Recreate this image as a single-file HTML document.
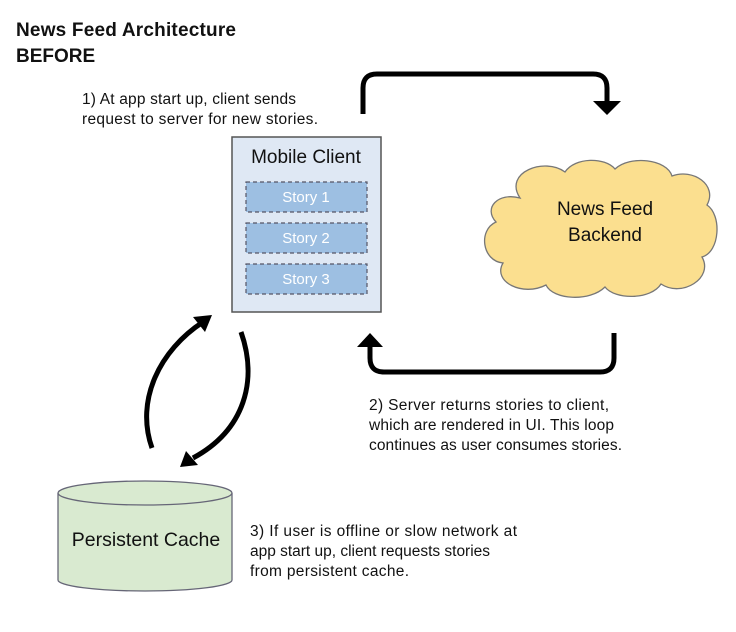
<!DOCTYPE html>
<html><head><style>
body{margin:0;background:#fff;width:736px;height:627px;overflow:hidden;font-family:"Liberation Sans",sans-serif;}
svg text{font-family:"Liberation Sans",sans-serif;}
</style></head><body>
<svg width="736" height="627" viewBox="0 0 736 627" xmlns="http://www.w3.org/2000/svg">
<text x="16" y="36" font-size="19" font-weight="bold" fill="#111" textLength="220">News Feed Architecture</text>
<text x="16" y="62" font-size="19" font-weight="bold" fill="#111">BEFORE</text>
<text x="82" y="104" font-size="15.5" fill="#111" textLength="214">1) At app start up, client sends</text>
<text x="82" y="124" font-size="15.5" fill="#111" textLength="236">request to server for new stories.</text>

<rect x="232" y="137" width="149" height="175" fill="#dfe8f4" stroke="#555" stroke-width="1.5"/>
<text x="306" y="163" font-size="19" text-anchor="middle" fill="#111">Mobile Client</text>
<g stroke="#556" stroke-width="1.2" stroke-dasharray="4,3" fill="#9dbfe2">
<rect x="246" y="182" width="121" height="30"/>
<rect x="246" y="223" width="121" height="30"/>
<rect x="246" y="264" width="121" height="30"/>
</g>
<g font-size="15" fill="#fff" text-anchor="middle">
<text x="306" y="202">Story 1</text>
<text x="306" y="243">Story 2</text>
<text x="306" y="284">Story 3</text>
</g>

<path d="M520,198 C503,172 545,157 565,172 C575,157 605,157 615,169 C630,155 667,159 672,176 C693,168 718,185 707,205 C722,215 720,252 702,257 C714,278 682,298 661,284 C651,300 615,300 605,287 C590,302 553,300 546,285 C523,297 492,282 503,263 C482,261 478,230 496,222 C483,208 498,192 520,198 Z" fill="#fbdf8f" stroke="#777" stroke-width="1.3"/>
<text x="605" y="215" font-size="19" text-anchor="middle" fill="#111">News Feed</text>
<text x="605" y="241" font-size="19" text-anchor="middle" fill="#111">Backend</text>

<g fill="none" stroke="#000" stroke-width="5">
<path d="M363,114 V88 Q363,74 377,74 H593 Q607,74 607,88 V102"/>
<path d="M614,333 V358 Q614,372 600,372 H384 Q370,372 370,358 V346"/>
<path d="M152,448 C135,400 160,350 203,322"/>
<path d="M241,332 C258,380 245,430 193,458"/>
</g>
<g fill="#000">
<polygon points="593,101 621,101 607,115"/>
<polygon points="357,347 383,347 370,333"/>
<polygon points="212,315 193,317 205,332"/>
<polygon points="180,467 198,465 186,451"/>
</g>

<text x="369" y="410" font-size="15.5" fill="#111" textLength="240">2) Server returns stories to client,</text>
<text x="369" y="430" font-size="15.5" fill="#111" textLength="245">which are rendered in UI.  This loop</text>
<text x="369" y="450" font-size="15.5" fill="#111" textLength="253">continues as user consumes stories.</text>

<path d="M58,493 V580 A87,11 0 0 0 232,580 V493" fill="#d9ead0" stroke="#667" stroke-width="1.3"/>
<ellipse cx="145" cy="493" rx="87" ry="12" fill="#d9ead0" stroke="#667" stroke-width="1.3"/>
<text x="146" y="546" font-size="19.5" text-anchor="middle" fill="#111">Persistent Cache</text>

<text x="250" y="536" font-size="15.5" fill="#111" textLength="267">3) If user is offline or slow network at</text>
<text x="250" y="556" font-size="15.5" fill="#111" textLength="240">app start up, client requests stories</text>
<text x="250" y="576" font-size="15.5" fill="#111" textLength="159">from persistent cache.</text>
</svg>
</body></html>
